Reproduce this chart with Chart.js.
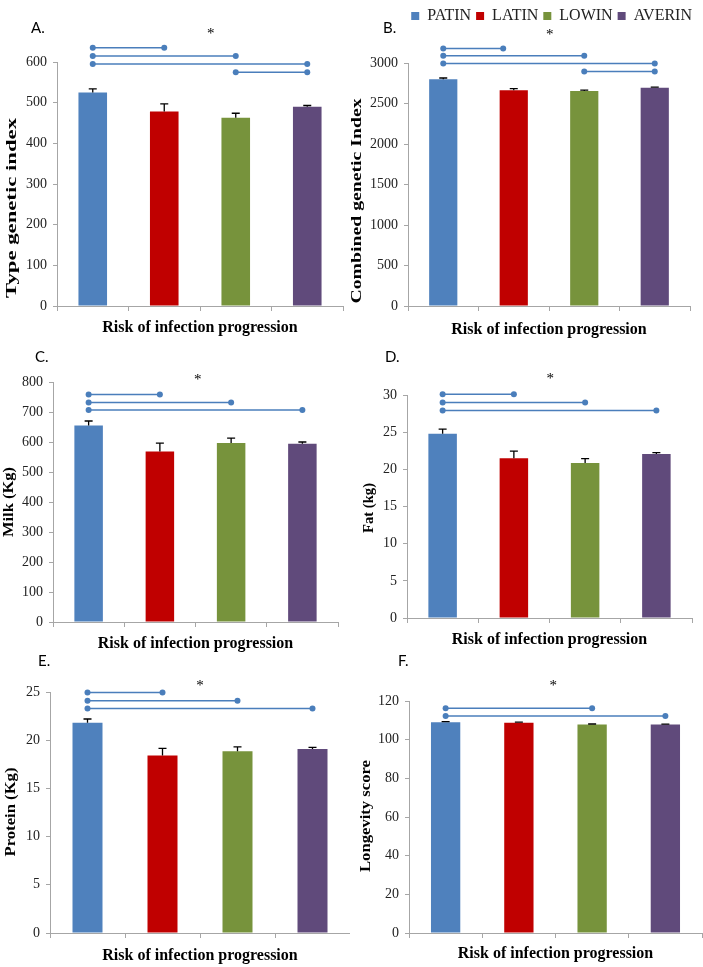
<!DOCTYPE html>
<html>
<head>
<meta charset="utf-8">
<script src="https://cdn.jsdelivr.net/npm/chart.js@4.4.1/dist/chart.umd.min.js"></script>
<style>
  body { margin: 0; background: #fff; }
  #wrap { position: relative; width: 703px; height: 967px; overflow: hidden; }
  #wrap canvas { position: absolute; }
</style>
</head>
<body>
<div id="wrap"></div>
<script>
// groups and colours
const groups = ['PATIN', 'LATIN', 'LOWIN', 'AVERIN'];
const groupColors = ['#4F81BD', '#C00000', '#77933C', '#604A7B'];
const xTitle = 'Risk of infection progression';

// A. type genetic index
const typeIndex = [525, 478, 463, 490];
const typeIndexErr = [9, 19, 11, 3];
const typeSig = [[0, 1, 635], [0, 2, 615], [0, 3, 595], [2, 3, 575]];
const typeStar = [1.65, 676];

// B. combined genetic index
const combIndex = [2800, 2665, 2655, 2695];
const combIndexErr = [15, 18, 10, 6];
const combSig = [[0, 0.85, 3180], [0, 2, 3090], [0, 3, 2995], [2, 3, 2895]];
const combStar = [1.51, 3383];

// C. milk
const milk = [655, 568, 597, 594];
const milkErr = [15, 28, 16, 6];
const milkSig = [[0, 1, 758], [0, 2, 732], [0, 3, 707]];
const milkStar = [1.53, 817];

// D. fat
const fat = [24.8, 21.5, 20.85, 22.05];
const fatErr = [0.6, 0.95, 0.6, 0.2];
const fatSig = [[0, 1, 30.1], [0, 2, 29.0], [0, 3, 27.9]];
const fatStar = [1.51, 32.6];

// E. protein
const protein = [21.8, 18.4, 18.85, 19.1];
const proteinErr = [0.4, 0.75, 0.45, 0.15];
const proteinSig = [[0, 1, 24.95], [0, 2, 24.1], [0, 3, 23.3]];
const proteinStar = [1.5, 25.95];

// F. longevity
const longevity = [109.0, 108.8, 107.8, 107.8];
const longevityErr = [0.3, 0.3, 0.3, 0.2];
const longevitySig = [[0, 2, 116.2], [0, 3, 112.2]];
const longevityStar = [1.47, 129.3];

const panels = [
  { letter: 'A.', yTitle: 'Type genetic index', values: typeIndex, err: typeIndexErr, sig: typeSig, star: typeStar, max: 600, step: 100,
    box: [0, 0, 350, 340], pad: { top: 62, right: 7, bottom: 3 }, yWidth: 57, xHeight: 31, letterAt: [31, 33], titleAt: [12, 208, 180] },
  { letter: 'B.', yTitle: 'Combined genetic Index', values: combIndex, err: combIndexErr, sig: combSig, star: combStar, max: 3000, step: 500,
    box: [350, 0, 353, 340], pad: { top: 3, right: 6, bottom: 1 }, yWidth: 58, xHeight: 33, letterAt: [33, 33], titleAt: [7.5, 201, 205],
    legend: true, gap: 29, edge: 7 },
  { letter: 'C.', yTitle: 'Milk (Kg)', values: milk, err: milkErr, sig: milkSig, star: milkStar, max: 800, step: 100,
    box: [0, 330, 350, 325], pad: { top: 52, right: 12, bottom: 2 }, yWidth: 53, xHeight: 31, letterAt: [35, 32], titleAt: [9, 172, 70] },
  { letter: 'D.', yTitle: 'Fat (kg)', values: fat, err: fatErr, sig: fatSig, star: fatStar, max: 30, step: 5,
    box: [350, 330, 353, 325], pad: { top: 65, right: 11, bottom: 6 }, yWidth: 57, xHeight: 31, letterAt: [35, 32], titleAt: [19, 178, 50] },
  { letter: 'E.', yTitle: 'Protein (Kg)', values: protein, err: proteinErr, sig: proteinSig, star: proteinStar, max: 25, step: 5,
    box: [0, 645, 350, 322], pad: { top: 47, right: 0, bottom: 2 }, yWidth: 50, xHeight: 32, letterAt: [38, 21], titleAt: [11, 167, 89] },
  { letter: 'F.', yTitle: 'Longevity score', values: longevity, err: longevityErr, sig: longevitySig, star: longevityStar, max: 120, step: 20,
    box: [350, 645, 353, 322], pad: { top: 56, right: 1, bottom: 4 }, yWidth: 59, xHeight: 30, letterAt: [48, 21], titleAt: [16, 171, 112] }
];

const axisGrey = '#A6A6A6';
const serif = '"Liberation Serif", "Times New Roman", serif';

// error bars, significance lines, asterisk, panel letter and y title
function overlay(p) {
  return {
    id: 'overlay',
    afterDatasetsDraw(chart) {
      const ctx = chart.ctx;
      const xs = chart.scales.x, ys = chart.scales.y;
      const bars = chart.getDatasetMeta(0).data;
      ctx.save();

      ctx.strokeStyle = '#000';
      ctx.lineWidth = 1.3;
      bars.forEach((bar, i) => {
        const top = ys.getPixelForValue(p.values[i] + p.err[i]);
        ctx.beginPath();
        ctx.moveTo(bar.x, bar.y);
        ctx.lineTo(bar.x, top);
        ctx.moveTo(bar.x - 4, top);
        ctx.lineTo(bar.x + 4, top);
        ctx.stroke();
      });

      ctx.strokeStyle = '#4A7EBB';
      ctx.fillStyle = '#4A7EBB';
      ctx.lineWidth = 1.5;
      p.sig.forEach(s => {
        const x1 = xs.getPixelForValue(s[0]);
        const x2 = xs.getPixelForValue(s[1]);
        const y = ys.getPixelForValue(s[2]);
        ctx.beginPath();
        ctx.moveTo(x1, y);
        ctx.lineTo(x2, y);
        ctx.stroke();
        [x1, x2].forEach(x => {
          ctx.beginPath();
          ctx.arc(x, y, 3, 0, Math.PI * 2);
          ctx.fill();
        });
      });

      ctx.fillStyle = '#000';
      ctx.font = '15px ' + serif;
      ctx.textAlign = 'center';
      ctx.textBaseline = 'middle';
      ctx.fillText('*', xs.getPixelForValue(p.star[0]), ys.getPixelForValue(p.star[1]) + 3);

      ctx.textAlign = 'left';
      ctx.textBaseline = 'alphabetic';
      ctx.font = '15px Lato, "Open Sans", sans-serif';
      ctx.fillText(p.letter, p.letterAt[0], p.letterAt[1]);

      ctx.font = 'bold 15px ' + serif;
      const w = ctx.measureText(p.yTitle).width;
      ctx.translate(p.titleAt[0], p.titleAt[1]);
      ctx.rotate(-Math.PI / 2);
      ctx.scale(p.titleAt[2] / w, 1);
      ctx.textAlign = 'center';
      ctx.textBaseline = 'middle';
      ctx.fillText(p.yTitle, 0, 0);
      ctx.restore();
    }
  };
}

// invisible scale that only reserves space
function spacer(position, size) {
  return {
    type: 'linear',
    position: position,
    grid: { display: false },
    border: { display: false },
    ticks: { display: false },
    afterFit(s) {
      if (position === 'top') s.height = size; else s.width = size;
    }
  };
}

const wrap = document.getElementById('wrap');

panels.forEach(p => {
  const canvas = document.createElement('canvas');
  canvas.width = p.box[2];
  canvas.height = p.box[3];
  canvas.style.left = p.box[0] + 'px';
  canvas.style.top = p.box[1] + 'px';
  wrap.appendChild(canvas);

  const scales = {
    x: {
      offset: true,
      grid: { display: true, offset: true, drawOnChartArea: false, tickLength: 5, color: axisGrey },
      border: { color: axisGrey },
      ticks: { display: false },
      title: { display: true, text: xTitle, color: '#000', padding: 0, font: { family: serif, size: 16, weight: 'bold' } },
      afterFit(s) { s.height = p.xHeight; }
    },
    y: {
      min: 0,
      max: p.max,
      grid: { drawOnChartArea: false, tickLength: 4, color: axisGrey },
      border: { color: axisGrey },
      ticks: {
        stepSize: p.step,
        padding: 6,
        color: '#222',
        font: { family: serif, size: 14 },
        callback: v => String(v)
      },
      afterFit(s) { s.width = p.yWidth; }
    }
  };
  if (p.gap) scales.gap = spacer('top', p.gap);
  if (p.edge) scales.edge = spacer('right', p.edge);

  new Chart(canvas, {
    type: 'bar',
    data: {
      labels: groups,
      datasets: [{
        data: p.values,
        backgroundColor: groupColors,
        borderWidth: 0,
        barPercentage: 0.4,
        categoryPercentage: 1
      }]
    },
    options: {
      responsive: false,
      animation: false,
      devicePixelRatio: 1,
      layout: { padding: { left: 0, top: p.pad.top, right: p.pad.right, bottom: p.pad.bottom } },
      scales: scales,
      plugins: {
        tooltip: { enabled: false },
        legend: {
          display: !!p.legend,
          position: 'top',
          align: 'end',
          onClick: null,
          labels: {
            boxWidth: 8,
            boxHeight: 8,
            padding: 5,
            color: '#222',
            font: { family: serif, size: 16 },
            generateLabels: () => groups.map((g, i) => ({
              text: g,
              fillStyle: groupColors[i],
              strokeStyle: groupColors[i],
              lineWidth: 0,
              fontColor: '#222',
              hidden: false,
              index: i
            }))
          }
        }
      }
    },
    plugins: [overlay(p)]
  });
});
</script>
</body>
</html>
